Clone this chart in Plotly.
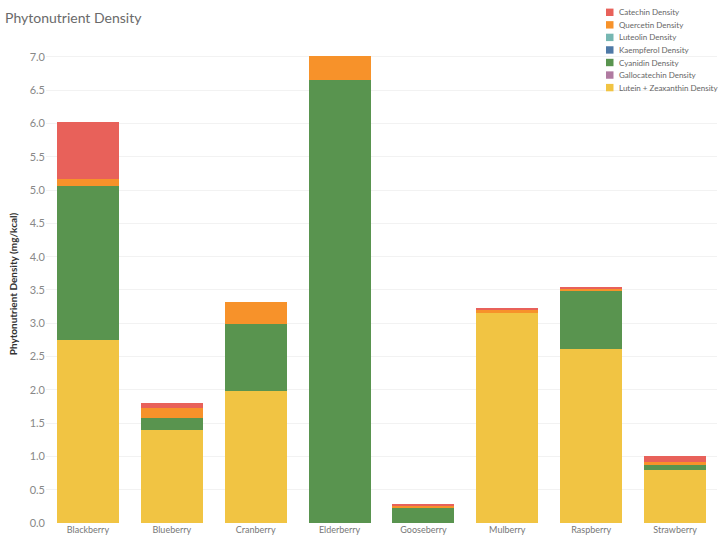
import plotly.graph_objects as go

categories = ["Blackberry", "Blueberry", "Cranberry", "Elderberry",
              "Gooseberry", "Mulberry", "Raspberry", "Strawberry"]

lutein_zeaxanthin = [2.75, 1.40, 1.98, 0.00, 0.00, 3.15, 2.61, 0.80]
gallocatechin     = [0.00, 0.00, 0.00, 0.00, 0.00, 0.00, 0.00, 0.00]
cyanidin          = [2.31, 0.18, 1.01, 6.65, 0.22, 0.00, 0.88, 0.07]
kaempferol        = [0.00, 0.00, 0.00, 0.00, 0.00, 0.00, 0.00, 0.00]
luteolin          = [0.00, 0.00, 0.00, 0.00, 0.00, 0.00, 0.00, 0.00]
quercetin         = [0.11, 0.15, 0.33, 0.36, 0.04, 0.05, 0.03, 0.05]
catechin          = [0.85, 0.08, 0.00, 0.00, 0.03, 0.02, 0.02, 0.09]

series = [
    ("Lutein + Zeaxanthin Density", lutein_zeaxanthin, "#F1C443"),
    ("Gallocatechin Density", gallocatechin, "#B07AA1"),
    ("Cyanidin Density", cyanidin, "#59944F"),
    ("Kaempferol Density", kaempferol, "#4E79A7"),
    ("Luteolin Density", luteolin, "#76B7B2"),
    ("Quercetin Density", quercetin, "#F7922A"),
    ("Catechin Density", catechin, "#E8615A"),
]

y_ticks = [i * 0.5 for i in range(15)]

W, H = 720, 540
ML, MR, MT, MB = 46, 3, 45, 17
PW, PH = W - ML - MR, H - MT - MB


def px_x(px):
    return (px - ML) / PW


def px_y(py):
    return (H - MB - py) / PH


fig = go.Figure()
for name, vals, col in series:
    fig.add_trace(go.Bar(x=categories, y=vals, name=name, showlegend=False,
                         marker=dict(color=col, line=dict(width=0))))

# compact legend (top to bottom = reverse of stacking order)
shapes, annotations = [], []
row0, step = 12.3, 12.55
for i, (name, vals, col) in enumerate(reversed(series)):
    cy = row0 + i * step
    shapes.append(dict(type="rect", xref="paper", yref="paper",
                       x0=px_x(606), x1=px_x(613.5),
                       y0=px_y(cy + 3.7), y1=px_y(cy - 3.7),
                       fillcolor=col, line=dict(width=0)))
    annotations.append(dict(text=name, xref="paper", yref="paper",
                            x=px_x(617), y=px_y(cy), xanchor="left",
                            yanchor="middle", showarrow=False,
                            font=dict(size=8, color="#666666")))

fig.update_layout(
    barmode="stack",
    bargap=0.26,
    width=W, height=H,
    margin=dict(l=ML, r=MR, t=MT, b=MB, autoexpand=False),
    paper_bgcolor="white", plot_bgcolor="white",
    font=dict(family="Lato, Open Sans, sans-serif", color="#666666"),
    title=dict(text="Phytonutrient Density", x=0.007, xanchor="left",
               y=0.967, yanchor="middle",
               font=dict(size=14, color="#6a6a6a")),
    showlegend=False,
    shapes=shapes,
    annotations=annotations,
    xaxis=dict(range=[-0.5, 7.5], showgrid=False, showline=False,
               ticks="", tickfont=dict(size=9, color="#777777")),
    yaxis=dict(range=[0, 7.18], tickvals=y_ticks,
               ticktext=[f"{v:.1f}" for v in y_ticks],
               showgrid=True, gridcolor="#F2F2F2", gridwidth=1,
               zeroline=False, showline=False, ticks="",
               tickfont=dict(size=11, color="#888888"),
               title=dict(text="<b>Phytonutrient Density (mg/kcal)</b>",
                          font=dict(size=10, color="#333333"), standoff=10)),
)

fig.write_html("out.html")
